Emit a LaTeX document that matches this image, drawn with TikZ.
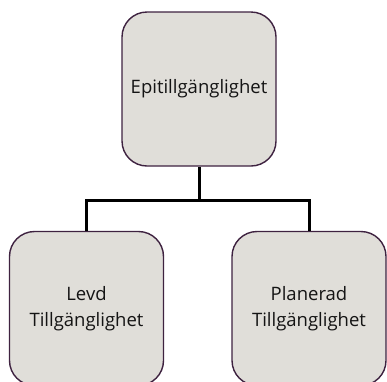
\documentclass[tikz,border=0pt]{standalone}
\usepackage{fontspec}
\setmainfont{Open Sans}
\definecolor{boxfill}{HTML}{E0DED9}
\definecolor{boxdraw}{HTML}{3E2240}
\begin{document}
\begin{tikzpicture}[x=1pt,y=-1pt,
  card/.style={draw=boxdraw,fill=boxfill,line width=1.4pt,rounded corners=25pt,
    minimum width=154pt,minimum height=154pt,inner sep=0pt,align=center,
    font=\fontsize{18.5}{26}\selectfont,text=black!92},
  link/.style={line width=3pt,black}]
\useasboundingbox (0,0) rectangle (387,381);
\node[card] (top) at (199,89) {Epitillgänglighet};
\node[card] (left) at (86.5,308.5) {Levd\\Tillgänglighet};
\node[card] (right) at (309,308.5) {Planerad\\Tillgänglighet};
\coordinate (mid) at (199,200);
\draw[link] (top.south) -- (mid);
\draw[link] (left.north) |- (mid) -| (right.north);
\end{tikzpicture}
\end{document}
